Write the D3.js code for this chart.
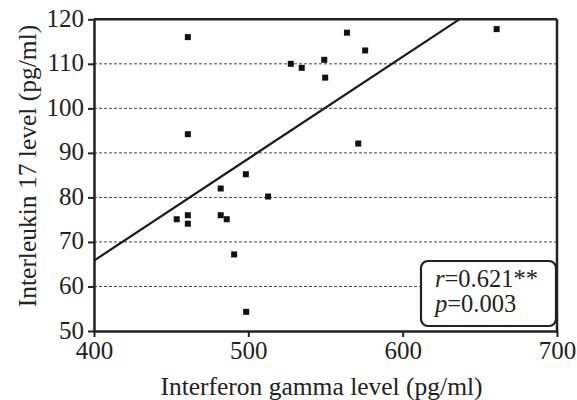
<!DOCTYPE html>
<html><head><meta charset="utf-8">
<script src="https://cdn.jsdelivr.net/npm/d3@7"></script>
<style>body{margin:0;background:#fff}svg{display:block}text{font-family:"Liberation Serif","Times New Roman",serif}</style>
</head><body><svg id="c" width="577" height="400"></svg>
<script>
const ifnGamma = [460.8,527.5,534.6,549.2,549.8,460.8,498.4,563.9,575.7,660.9,571.2,453.6,460.8,460.8,482.1,482.1,486,512.8,490.8,498.6];
const il17     = [116,110,109.1,110.9,106.9,94.2,85.2,117,113,117.8,92.1,75.1,76,74.1,82,76,75.1,80.2,67.2,54.3];
const xTicks = [400,500,600,700];
const yTicks = [50,60,70,80,90,100,110,120];
const gridTicks = [60,70,80,90,100,110];
const fitLine = [[400,65.8],[636.7,120]];
const statsLines = [["r","=0.621**"],["p","=0.003"]];
const xTitle = "Interferon gamma level (pg/ml)";
const yTitle = "Interleukin 17 level (pg/ml)";

const svg = d3.select("#c");
const L=94,R=557,T=19.3,B=331;
const x = d3.scaleLinear().domain([400,700]).range([L,R]);
const y = d3.scaleLinear().domain([50,120]).range([B,T]);

svg.append("g").selectAll("line").data(gridTicks).join("line")
  .attr("x1",L).attr("x2",R).attr("y1",d=>y(d)).attr("y2",d=>y(d))
  .attr("stroke","#444").attr("stroke-width",1).attr("stroke-dasharray","3,2");

const fs=25, sfs=24.5, tfs=25.5;
const xa = svg.append("g").attr("transform",`translate(0,${B})`)
  .call(d3.axisBottom(x).tickValues(xTicks).tickSize(6).tickSizeOuter(0).tickPadding(4));
const ya = svg.append("g").attr("transform",`translate(${L},0)`)
  .call(d3.axisLeft(y).tickValues(yTicks).tickSize(6).tickSizeOuter(0).tickPadding(4));
[xa,ya].forEach(a=>{
  a.select(".domain").attr("stroke","#222").attr("stroke-width",2.5);
  a.selectAll(".tick line").attr("stroke","#222").attr("stroke-width",2);
  a.selectAll("text").attr("font-size",fs).attr("fill","#222").style("font-family","'Liberation Serif',serif");
});
ya.selectAll(".tick text").attr("dy","0.28em");
// top & right frame
svg.append("line").attr("x1",L).attr("x2",R).attr("y1",T).attr("y2",T).attr("stroke","#222").attr("stroke-width",2.5);
svg.append("line").attr("x1",R).attr("x2",R).attr("y1",T).attr("y2",B).attr("stroke","#222").attr("stroke-width",2.5);

svg.append("line")
  .attr("x1",x(fitLine[0][0])).attr("y1",y(fitLine[0][1]))
  .attr("x2",x(fitLine[1][0])).attr("y2",y(fitLine[1][1]))
  .attr("stroke","#1a1a1a").attr("stroke-width",2.2);

const s=6;
svg.append("g").selectAll("rect").data(ifnGamma).join("rect")
  .attr("x",(d)=>x(d)-s/2).attr("y",(d,i)=>y(il17[i])-s/2)
  .attr("width",s).attr("height",s).attr("fill","#111");

// stats box
svg.append("rect").attr("x",421).attr("y",261).attr("width",135).attr("height",65)
  .attr("rx",7).attr("fill","#fff").attr("stroke","#222").attr("stroke-width",2.2);
const st = svg.append("g");
statsLines.forEach((l,i)=>{
  const t = st.append("text").attr("x",435).attr("y",287+i*25).attr("font-size",sfs).attr("fill","#222");
  t.append("tspan").attr("font-style","italic").text(l[0]);
  t.append("tspan").text(l[1]);
});

svg.append("text").attr("x",(L+R)/2-4).attr("y",395).attr("text-anchor","middle")
  .attr("font-size",tfs).attr("fill","#222").text(xTitle);
svg.append("text").attr("transform",`translate(36,166) rotate(-90)`).attr("text-anchor","middle")
  .attr("font-size",tfs).attr("fill","#222").text(yTitle);
</script></body></html>
